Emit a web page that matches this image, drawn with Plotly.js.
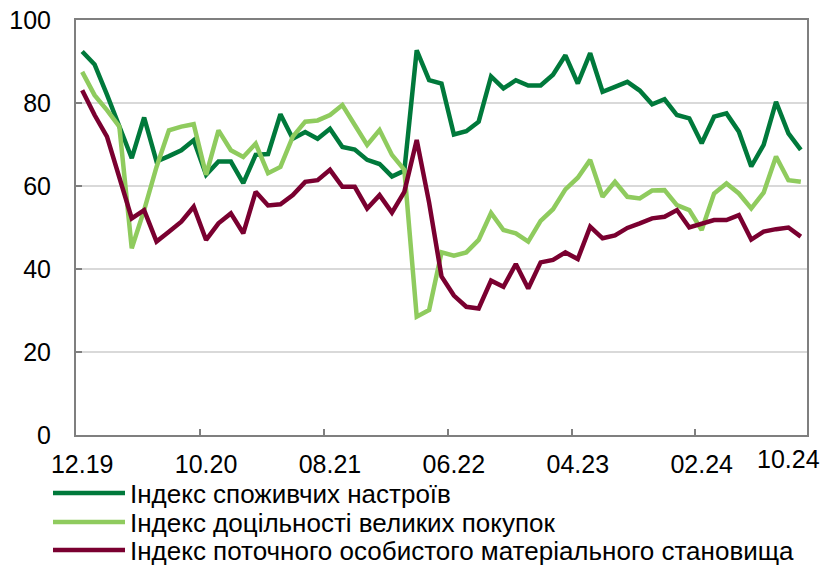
<!DOCTYPE html>
<html>
<head>
<meta charset="utf-8">
<script src="https://cdn.plot.ly/plotly-3.0.1.min.js"></script>
<style>
  html, body { margin: 0; padding: 0; background: #fff; }
  #chart { width: 826px; height: 567px; }
</style>
</head>
<body>
<div id="chart"></div>
<script>
// Monthly categories 12.19 … 10.24
const categories = ["12.19","01.20","02.20","03.20","04.20","05.20","06.20","07.20","08.20","09.20",
  "10.20","11.20","12.20","01.21","02.21","03.21","04.21","05.21","06.21","07.21",
  "08.21","09.21","10.21","11.21","12.21","01.22","02.22","03.22","04.22","05.22",
  "06.22","07.22","08.22","09.22","10.22","11.22","12.22","01.23","02.23","03.23",
  "04.23","05.23","06.23","07.23","08.23","09.23","10.23","11.23","12.23","01.24",
  "02.24","03.24","04.24","05.24","06.24","07.24","08.24","09.24","10.24"];

const tickLabels = ["12.19","10.20","08.21","06.22","04.23","02.24","10.24"];

const seriesNames = [
  "Індекс споживчих настроїв",
  "Індекс доцільності великих покупок",
  "Індекс поточного особистого матеріального становища"
];

const consumerSentiment = [92.4,89.3,82,74.5,66.7,76.5,65.9,67.2,68.6,71,
  62.7,65.9,65.9,60.7,67.5,67.7,77.3,71.4,73,71.4,
  73.8,69.4,68.8,66.3,65.3,62.3,63.7,92.7,85.5,84.7,
  72.4,73.2,75.5,86.4,83.5,85.5,84.2,84.2,86.8,91.5,
  84.7,92,82.7,83.9,85.1,83,79.7,80.9,77.1,76.3,
  70.3,76.7,77.5,73.1,64.7,69.9,80.3,72.7,68.7];

const bigPurchases = [87.5,81.9,78.3,74.3,45,54.2,64.6,73.4,74.3,74.9,
  62.7,73.4,68.6,67,70.2,63.1,64.6,71.9,75.5,75.8,
  77.1,79.5,74.7,69.9,73.5,67.5,63.9,28.5,30.1,44,
  43.2,44,47,53.5,49.4,48.6,46.6,51.6,54.4,59.2,
  62,66.3,57.4,61,57.4,57,58.9,59,55.4,54.2,
  49.4,58.2,60.6,58.2,54.6,58.4,67.1,61.4,61];

const personalFinance = [83.1,77.1,71.9,62,52.2,54.2,46.6,49,51.4,55,
  47,51,53.4,48.6,58.6,55.3,55.6,57.8,61,61.4,
  63.9,59.8,59.8,54.6,57.8,53.6,58.6,71.1,56,38.2,
  33.6,30.9,30.5,37.2,35.7,41.2,35.3,41.6,42.2,44,
  42.4,50.2,47.4,48.1,49.9,51,52.2,52.6,54.2,50,
  50.9,51.8,51.8,53,47.1,49,49.6,50,47.8];

const colors = ["#00793B", "#8FCB5E", "#7A0030"];
const allSeries = [consumerSentiment, bigPurchases, personalFinance];
const legendIds = ["legend", "legend2", "legend3"];

const idx = categories.map((c, i) => i);
const n = categories.length;

const traces = allSeries.map((vals, k) => ({
  type: "scatter",
  mode: "lines",
  x: idx,
  y: vals,
  name: seriesNames[k],
  legend: legendIds[k],
  line: { color: colors[k], width: 4.5 },
  hoverinfo: "skip"
}));

// empty helper trace so the tick-mark axis (x2) is drawn
traces.unshift({
  type: "scatter", mode: "lines",
  x: [], y: [],
  xaxis: "x2", yaxis: "y",
  showlegend: false, hoverinfo: "skip"
});

const mainTickVals = tickLabels.slice(0, -1).map(t => categories.indexOf(t));
const mainTickText = tickLabels.slice(0, -1);
// boundary tick marks every 10 categories
const boundaryTicks = [];
for (let i = 10; i < n; i += 10) boundaryTicks.push(i - 0.5);

const font = "Liberation Sans, Arial, sans-serif";
const axisGrey = "#7f7f7f";
const legendRows = [493, 522, 550];

const legendBase = (row) => ({
  xref: "container", yref: "container",
  x: 48 / 826, y: 1 - row / 567,
  xanchor: "left", yanchor: "middle",
  bgcolor: "rgba(0,0,0,0)",
  font: { family: font, size: 26, color: "#000" },
  itemwidth: 72,
  orientation: "v"
});

const layout = {
  width: 826, height: 567,
  margin: { l: 76, r: 19, t: 20, b: 132, autoexpand: false },
  paper_bgcolor: "#fff", plot_bgcolor: "#fff",
  showlegend: true,
  legend: legendBase(legendRows[0]),
  legend2: legendBase(legendRows[1]),
  legend3: legendBase(legendRows[2]),
  xaxis: {
    type: "linear",
    range: [-0.5, n - 0.5],
    tickvals: mainTickVals,
    ticktext: mainTickText,
    ticks: "",
    showgrid: false, zeroline: false,
    showline: true, linecolor: axisGrey, linewidth: 2, mirror: true,
    tickfont: { family: font, size: 25, color: "#000" },
    ticklabelstandoff: 6,
    tickangle: 0,
    automargin: false
  },
  xaxis2: {
    type: "linear",
    overlaying: "x", anchor: "y", side: "bottom",
    range: [-0.5, n - 0.5],
    tickvals: boundaryTicks,
    ticks: "inside", ticklen: 6, tickwidth: 2, tickcolor: axisGrey,
    showticklabels: false, showgrid: false, zeroline: false, showline: false,
    automargin: false
  },
  yaxis: {
    range: [0, 100],
    tickvals: [0, 20, 40, 60, 80, 100],
    ticks: "inside", ticklen: 6, tickwidth: 2, tickcolor: axisGrey,
    showgrid: true, gridcolor: "#d9d9d9", gridwidth: 1.5,
    zeroline: false,
    showline: true, linecolor: axisGrey, linewidth: 2, mirror: true,
    tickfont: { family: font, size: 25, color: "#000" },
    ticklabelstandoff: 18,
    automargin: false
  },
  annotations: [{
    xref: "x", yref: "y",
    x: n - 1, y: 0,
    text: tickLabels[tickLabels.length - 1],
    showarrow: false,
    xanchor: "right", yanchor: "top",
    xshift: 21, yshift: -8,
    font: { family: font, size: 25, color: "#000" }
  }]
};

Plotly.newPlot("chart", traces, layout, { displayModeBar: false, staticPlot: true });
</script>
</body>
</html>
